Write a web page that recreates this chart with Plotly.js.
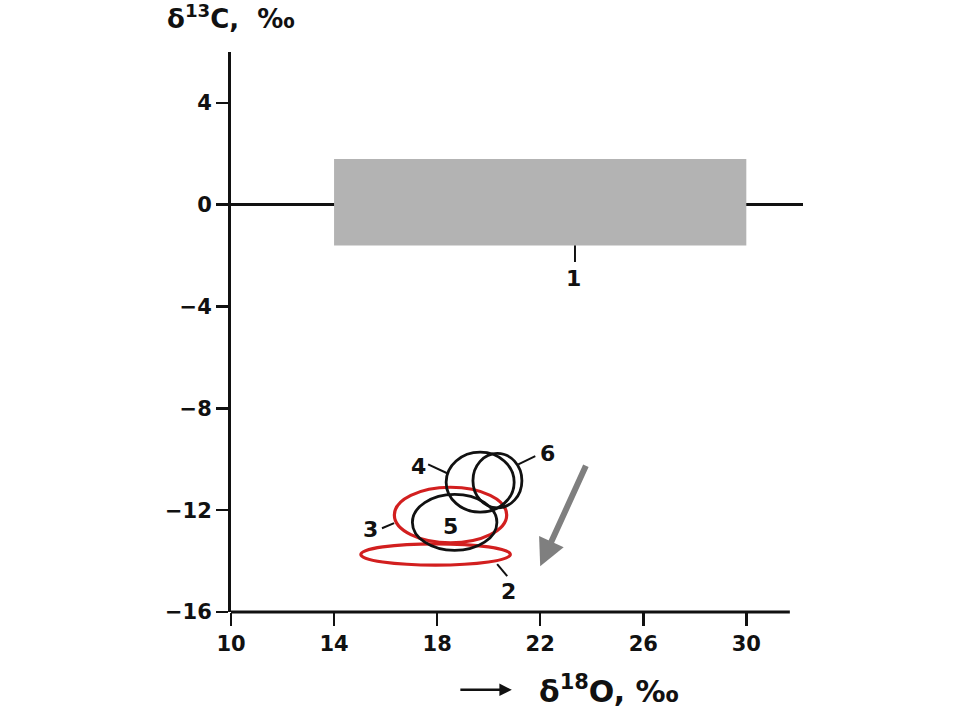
<!DOCTYPE html>
<html>
<head>
<meta charset="utf-8">
<script src="https://cdn.plot.ly/plotly-3.0.1.min.js"></script>
<style>html,body{margin:0;padding:0;background:#fff;}#chart{width:974px;height:720px;}</style>
</head>
<body>
<div id="chart"></div>
<script>
// Field 1: gray rectangle (δ18O range and δ13C range)
const field1X = [14, 30];
const field1Y = [-1.6, 1.8];

// Ellipses (fields 2-6): centre and half-axes in ‰
const ellipseNames = ["2", "3", "4", "5", "6"];
const ellipseCX = [17.94, 18.52, 19.67, 18.68, 20.34];
const ellipseCY = [-13.74, -12.19, -10.90, -12.48, -10.84];
const ellipseRX = [2.90, 2.18, 1.32, 1.64, 0.95];
const ellipseRY = [0.42, 1.09, 1.18, 1.10, 1.07];
const ellipseColor = ["#d21f1f", "#d21f1f", "#111111", "#111111", "#111111"];

// Labels and their leader lines
const labelText = ["1", "2", "3", "4", "5", "6"];
const labelX = [23.3, 20.76, 15.4, 17.26, 18.5, 22.27];
const labelY = [-2.9, -15.18, -12.75, -10.27, -12.63, -9.76];
const leaderX0 = [23.35, 20.33, 15.86, 17.65, null, 21.15];
const leaderY0 = [-1.6, -14.12, -12.71, -10.2, null, -10.2];
const leaderX1 = [23.35, 20.72, 16.33, 18.39, null, 21.81];
const leaderY1 = [-2.25, -14.59, -12.51, -10.55, null, -9.88];

// Trend arrow
const trendFrom = [23.8, -10.2];
const trendTo = [22.0, -14.2];

const xTicks = [10, 14, 18, 22, 26, 30];
const xTickText = ["10", "14", "18", "22", "26", "30"];
const yTicks = [-16, -12, -8, -4, 0, 4];
const yTickText = ["−16", "−12", "−8", "−4", "0", "4"];

const FONT = "DejaVu Sans";

const shapes = [];
// bottom axis line (stops before the end of the zero line)
shapes.push({type: "line", xref: "paper", yref: "paper", x0: 0, x1: 0.977, y0: 0, y1: 0,
  line: {color: "#111", width: 3}, layer: "above"});
// field 1
shapes.push({type: "rect", xref: "x", yref: "y", x0: field1X[0], x1: field1X[1], y0: field1Y[0], y1: field1Y[1],
  fillcolor: "#b3b3b3", line: {width: 0}, layer: "above"});
// ellipses
for (let i = 0; i < ellipseCX.length; i++) {
  shapes.push({type: "circle", xref: "x", yref: "y",
    x0: ellipseCX[i] - ellipseRX[i], x1: ellipseCX[i] + ellipseRX[i],
    y0: ellipseCY[i] - ellipseRY[i], y1: ellipseCY[i] + ellipseRY[i],
    line: {color: ellipseColor[i], width: ellipseColor[i] === "#111111" ? 2.8 : 3.2}, layer: "above"});
}
// leader lines
for (let i = 0; i < leaderX0.length; i++) {
  if (leaderX0[i] === null) continue;
  shapes.push({type: "line", xref: "x", yref: "y", x0: leaderX0[i], y0: leaderY0[i], x1: leaderX1[i], y1: leaderY1[i],
    line: {color: "#111", width: 2}, layer: "above"});
}

const annotations = [];
for (let i = 0; i < labelText.length; i++) {
  annotations.push({x: labelX[i], y: labelY[i], xref: "x", yref: "y", text: "<b>" + labelText[i] + "</b>",
    showarrow: false, font: {family: FONT, size: 22, color: "#111"}});
}
annotations.push({x: trendTo[0], y: trendTo[1], ax: trendFrom[0], ay: trendFrom[1], axref: "x", ayref: "y",
  xref: "x", yref: "y", text: "", showarrow: true, arrowhead: 2, arrowsize: 0.9, arrowwidth: 6, arrowcolor: "#7f7f7f",
  font: {size: 1}});
// axis titles
annotations.push({xref: "paper", yref: "paper", x: -0.115, y: 1.063, xanchor: "left", yanchor: "middle",
  text: "<b>δ<sup>13</sup>C,  ‰</b>", showarrow: false, font: {family: FONT, size: 26, color: "#111"}});
annotations.push({xref: "paper", yref: "paper", x: 0.535, y: -0.139, xanchor: "left", yanchor: "middle",
  text: "<b>δ<sup>18</sup>O, ‰</b>", showarrow: false, font: {family: FONT, size: 30, color: "#111"}});
annotations.push({xref: "paper", yref: "paper", x: 0.491, y: -0.139, ax: -53, ay: 0, text: "", font: {size: 1},
  showarrow: true, arrowhead: 2, arrowsize: 1, arrowwidth: 2.5, arrowcolor: "#111"});

const layout = {
  width: 974, height: 720,
  margin: {l: 231, r: 171, t: 52, b: 108},
  paper_bgcolor: "#fff", plot_bgcolor: "#fff",
  showlegend: false,
  xaxis: {range: [10, 32.2], tickvals: xTicks, ticktext: xTickText.map(t => "<b>" + t + "</b>"),
    ticks: "outside", ticklen: 13, tickwidth: 2.5, tickcolor: "#111",
    showgrid: false, zeroline: false, showline: false,
    tickfont: {family: FONT, size: 21, color: "#111"}, fixedrange: true},
  yaxis: {range: [-16, 6], tickvals: yTicks, ticktext: yTickText.map(t => "<b>" + t + "</b>"),
    ticks: "outside", ticklen: 12, tickwidth: 2.5, tickcolor: "#111",
    showgrid: false, zeroline: true, zerolinecolor: "#111", zerolinewidth: 3,
    showline: true, linecolor: "#111", linewidth: 3,
    tickfont: {family: FONT, size: 21, color: "#111"}, fixedrange: true},
  shapes: shapes,
  annotations: annotations
};

Plotly.newPlot("chart", [{x: [], y: [], type: "scatter", mode: "markers"}], layout, {staticPlot: true});
</script>
</body>
</html>
